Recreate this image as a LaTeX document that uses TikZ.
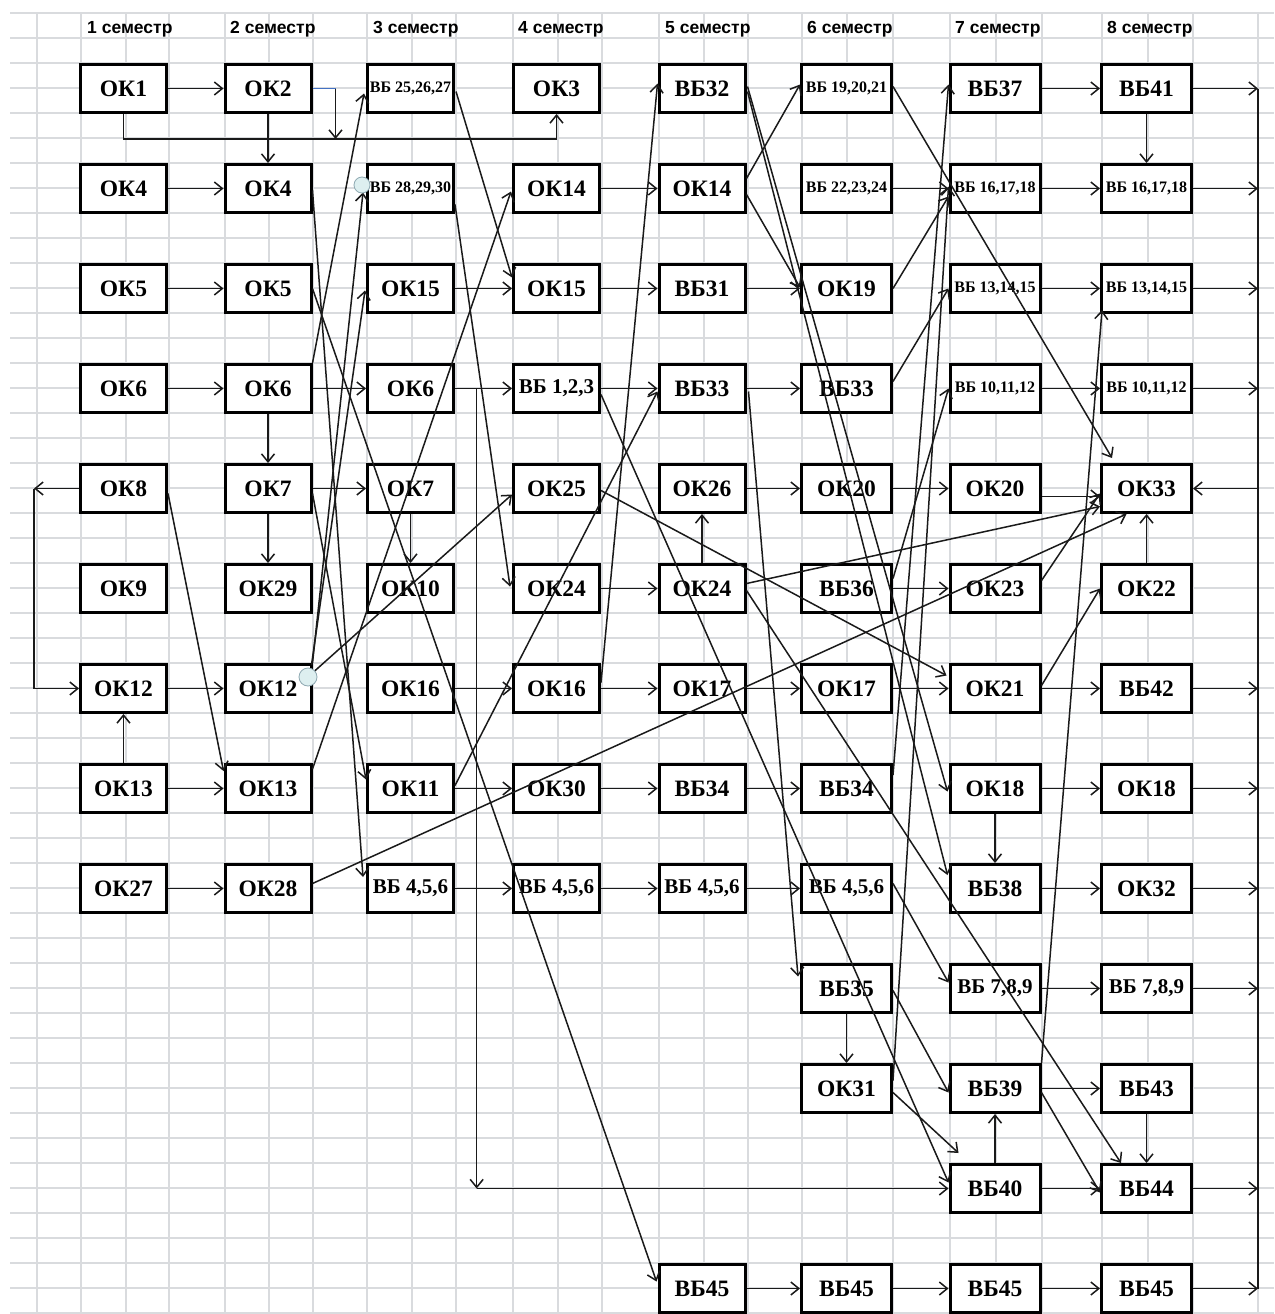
\documentclass[tikz,border=0pt]{standalone}
\usepackage{fontspec}
\setmainfont{Liberation Serif}
\newfontfamily\hdrfont{Liberation Sans}
\usetikzlibrary{arrows.meta,calc}
\definecolor{linec}{HTML}{1A1A1A}
\definecolor{gridc}{HTML}{D9DBDE}
\definecolor{bluel}{HTML}{4472C4}
\definecolor{circf}{HTML}{DDEFF0}
\definecolor{circd}{HTML}{8FA9B2}
\tikzset{
 bx/.style={draw=black, line width=3pt, fill=white, minimum width=86pt, minimum height=48pt, inner sep=0pt, font=\bfseries\fontsize{23.5}{23.5}\selectfont},
 bxw/.style={bx, minimum width=90pt},
 sm/.style={font=\bfseries\fontsize{16}{16}\selectfont},
 md/.style={font=\bfseries\fontsize{21}{21}\selectfont},
 arr/.style={line width=1.5pt, draw=linec, -{Straight Barb[length=8pt,width=13pt]}},
 ln/.style={line width=1.5pt, draw=linec},
 blueln/.style={line width=1.5pt, draw=bluel},
 gridl/.style={line width=1.1pt, draw=gridc},
 hdr/.style={font=\hdrfont\bfseries\fontsize{17.5}{17.5}\selectfont, anchor=west, inner sep=0pt},
 circ/.style={fill=circf, draw=circd, line width=0.8pt}
}
\begin{document}
\begin{tikzpicture}[x=1pt,y=-1pt]
\useasboundingbox (0,0) rectangle (1274,1314);
\fill[white] (0,0) rectangle (1274,1314);
% grid
\foreach \x in {37,81,126,169,225,269,313,367,412,456,513,558,602,659,704,748,802,847,893,950,996,1042,1102,1148,1193,1258}
  \draw[gridl] (\x,13) -- (\x,1314);
\foreach \k in {0,...,52}
  \draw[gridl] (10,{13+25*\k}) -- (1274,{13+25*\k});
% headers
\node[hdr] (h1) at (87,29) {1 семестр};
\node[hdr] (h2) at (230,29) {2 семестр};
\node[hdr] (h3) at (373,29) {3 семестр};
\node[hdr] (h4) at (518,29) {4 семестр};
\node[hdr] (h5) at (665,29) {5 семестр};
\node[hdr] (h6) at (807,29) {6 семестр};
\node[hdr] (h7) at (955,29) {7 семестр};
\node[hdr] (h8) at (1107,29) {8 семестр};
% column 1
\node[bx] (n1-1) at (123.5,88.5) {ОК1};
\node[bx] (n1-2) at (123.5,188.5) {ОК4};
\node[bx] (n1-3) at (123.5,288.5) {ОК5};
\node[bx] (n1-4) at (123.5,388.5) {ОК6};
\node[bx] (n1-5) at (123.5,488.5) {ОК8};
\node[bx] (n1-6) at (123.5,588.5) {ОК9};
\node[bx] (n1-7) at (123.5,688.5) {ОК12};
\node[bx] (n1-8) at (123.5,788.5) {ОК13};
\node[bx] (n1-9) at (123.5,888.5) {ОК27};
% column 2
\node[bx] (n2-1) at (268,88.5) {ОК2};
\node[bx] (n2-2) at (268,188.5) {ОК4};
\node[bx] (n2-3) at (268,288.5) {ОК5};
\node[bx] (n2-4) at (268,388.5) {ОК6};
\node[bx] (n2-5) at (268,488.5) {ОК7};
\node[bx] (n2-6) at (268,588.5) {ОК29};
\node[bx] (n2-7) at (268,688.5) {ОК12};
\node[bx] (n2-8) at (268,788.5) {ОК13};
\node[bx] (n2-9) at (268,888.5) {ОК28};
% column 3
\node[bx,sm] (n3-1) at (410.5,88.5) {ВБ 25,26,27};
\node[bx,sm] (n3-2) at (410.5,188.5) {ВБ 28,29,30};
\node[bx] (n3-3) at (410.5,288.5) {ОК15};
\node[bx] (n3-4) at (410.5,388.5) {ОК6};
\node[bx] (n3-5) at (410.5,488.5) {ОК7};
\node[bx] (n3-6) at (410.5,588.5) {ОК10};
\node[bx] (n3-7) at (410.5,688.5) {ОК16};
\node[bx] (n3-8) at (410.5,788.5) {ОК11};
\node[bx,md] (n3-9) at (410.5,888.5) {ВБ 4,5,6};
% column 4
\node[bx] (n4-1) at (556.5,88.5) {ОК3};
\node[bx] (n4-2) at (556.5,188.5) {ОК14};
\node[bx] (n4-3) at (556.5,288.5) {ОК15};
\node[bx,md] (n4-4) at (556.5,388.5) {ВБ 1,2,3};
\node[bx] (n4-5) at (556.5,488.5) {ОК25};
\node[bx] (n4-6) at (556.5,588.5) {ОК24};
\node[bx] (n4-7) at (556.5,688.5) {ОК16};
\node[bx] (n4-8) at (556.5,788.5) {ОК30};
\node[bx,md] (n4-9) at (556.5,888.5) {ВБ 4,5,6};
% column 5
\node[bx] (n5-1) at (702,88.5) {ВБ32};
\node[bx] (n5-2) at (702,188.5) {ОК14};
\node[bx] (n5-3) at (702,288.5) {ВБ31};
\node[bx] (n5-4) at (702,388.5) {ВБ33};
\node[bx] (n5-5) at (702,488.5) {ОК26};
\node[bx] (n5-6) at (702,588.5) {ОК24};
\node[bx] (n5-7) at (702,688.5) {ОК17};
\node[bx] (n5-8) at (702,788.5) {ВБ34};
\node[bx,md] (n5-9) at (702,888.5) {ВБ 4,5,6};
\node[bx] (n5-13) at (702,1288.5) {ВБ45};
% column 6
\node[bxw,sm] (n6-1) at (846.5,88.5) {ВБ 19,20,21};
\node[bxw,sm] (n6-2) at (846.5,188.5) {ВБ 22,23,24};
\node[bxw] (n6-3) at (846.5,288.5) {ОК19};
\node[bxw] (n6-4) at (846.5,388.5) {ВБ33};
\node[bxw] (n6-5) at (846.5,488.5) {ОК20};
\node[bxw] (n6-6) at (846.5,588.5) {ВБ36};
\node[bxw] (n6-7) at (846.5,688.5) {ОК17};
\node[bxw] (n6-8) at (846.5,788.5) {ВБ34};
\node[bxw,md] (n6-9) at (846.5,888.5) {ВБ 4,5,6};
\node[bxw] (n6-10) at (846.5,988.5) {ВБ35};
\node[bxw] (n6-11) at (846.5,1088.5) {ОК31};
\node[bxw] (n6-13) at (846.5,1288.5) {ВБ45};
% column 7
\node[bxw] (n7-1) at (995,88.5) {ВБ37};
\node[bxw,sm] (n7-2) at (995,188.5) {ВБ 16,17,18};
\node[bxw,sm] (n7-3) at (995,288.5) {ВБ 13,14,15};
\node[bxw,sm] (n7-4) at (995,388.5) {ВБ 10,11,12};
\node[bxw] (n7-5) at (995,488.5) {ОК20};
\node[bxw] (n7-6) at (995,588.5) {ОК23};
\node[bxw] (n7-7) at (995,688.5) {ОК21};
\node[bxw] (n7-8) at (995,788.5) {ОК18};
\node[bxw] (n7-9) at (995,888.5) {ВБ38};
\node[bxw,md] (n7-10) at (995,988.5) {ВБ 7,8,9};
\node[bxw] (n7-11) at (995,1088.5) {ВБ39};
\node[bxw] (n7-12) at (995,1188.5) {ВБ40};
\node[bxw] (n7-13) at (995,1288.5) {ВБ45};
% column 8
\node[bxw] (n8-1) at (1146.5,88.5) {ВБ41};
\node[bxw,sm] (n8-2) at (1146.5,188.5) {ВБ 16,17,18};
\node[bxw,sm] (n8-3) at (1146.5,288.5) {ВБ 13,14,15};
\node[bxw,sm] (n8-4) at (1146.5,388.5) {ВБ 10,11,12};
\node[bxw] (n8-5) at (1146.5,488.5) {ОК33};
\node[bxw] (n8-6) at (1146.5,588.5) {ОК22};
\node[bxw] (n8-7) at (1146.5,688.5) {ВБ42};
\node[bxw] (n8-8) at (1146.5,788.5) {ОК18};
\node[bxw] (n8-9) at (1146.5,888.5) {ОК32};
\node[bxw,md] (n8-10) at (1146.5,988.5) {ВБ 7,8,9};
\node[bxw] (n8-11) at (1146.5,1088.5) {ВБ43};
\node[bxw] (n8-12) at (1146.5,1188.5) {ВБ44};
\node[bxw] (n8-13) at (1146.5,1288.5) {ВБ45};
% helper coordinates
\coordinate (k0) at ($(n4-1.south)+(0,25)$);
\coordinate (k1) at ($(n2-1.east)+(23,0)$);
\coordinate (k2) at ($(n1-5.west)+(-45,0)$);
\path (n3-4.east) -- (n4-4.west) coordinate[pos=0.38] (k3);
\coordinate (k4) at (k3 |- n7-12.west);
\coordinate (bt) at (1258,88.5);
\coordinate (bb) at (1258,1289);
% horizontal connectors
\foreach \a/\b in {n1-1/n2-1,n1-2/n2-2,n1-3/n2-3,n1-4/n2-4,n1-7/n2-7,n1-8/n2-8,n1-9/n2-9,
  n2-4/n3-4,n2-5/n3-5,n3-3/n4-3,n3-4/n4-4,n3-7/n4-7,n3-8/n4-8,n3-9/n4-9,
  n4-2/n5-2,n4-3/n5-3,n4-4/n5-4,n4-6/n5-6,n4-7/n5-7,n4-8/n5-8,n4-9/n5-9,
  n5-3/n6-3,n5-4/n6-4,n5-5/n6-5,n5-7/n6-7,n5-8/n6-8,n5-9/n6-9,n5-13/n6-13,
  n6-2/n7-2,n6-5/n7-5,n6-6/n7-6,n6-7/n7-7,n6-13/n7-13,
  n7-1/n8-1,n7-2/n8-2,n7-3/n8-3,n7-4/n8-4,n7-7/n8-7,n7-8/n8-8,n7-9/n8-9,n7-10/n8-10,n7-11/n8-11,n7-12/n8-12,n7-13/n8-13}
  \draw[arr] (\a.east) -- (\b.west);
% vertical connectors
\foreach \a/\b in {n2-1/n2-2,n2-4/n2-5,n2-5/n2-6,n3-5/n3-6,n6-10/n6-11,n7-8/n7-9,n8-1/n8-2,n8-11/n8-12}
  \draw[arr] (\a.south) -- (\b.north);
\foreach \a/\b in {n1-8/n1-7,n5-6/n5-5,n7-12/n7-11,n8-6/n8-5}
  \draw[arr] (\a.north) -- (\b.south);
% routed connectors
\draw[arr] (n1-1.south) |- (k0) -- (n4-1.south);
\draw[blueln] (n2-1.east) -- (k1);
\draw[arr] (k1) -- (k1 |- k0);
\draw[arr] (n1-5.west) -- (k2);
\draw[arr] (k2) |- (n1-7.west);
\draw[arr] (k3) -- (k4);
\draw[arr] (k4) -- (n7-12.west);
% diagonal connectors
\draw[arr] ($(n1-5.east)+(0,5)$) -- ($(n2-8.north west)+(0,8)$);
\draw[arr] ($(n2-2.east)+(0,2)$) -- ($(n3-9.north west)+(-3,14)$);
\draw[arr] (n2-3.east) -- ($(n5-13.west)+(-1,-7)$);
\draw[arr] (n2-4.north east) -- ($(n3-1.west)+(-2,5)$);
\draw[arr] ($(n2-5.east)+(0,5)$) -- ($(n3-8.west)+(0,-9)$);
\draw[arr] (n2-7.north east) -- ($(n3-2.west)+(-3,4)$);
\draw[arr] ($(n2-7.north east)+(-1,2)$) -- ($(n3-3.west)+(-1,2)$);
\draw[arr] ($(n2-7.east)+(-4,-12)$) -- ($(n4-5.west)+(0,6)$);
\draw[arr] ($(n2-8.north east)+(0,6)$) -- ($(n4-2.west)+(-1,3)$);
\draw[arr] ($(n2-9.east)+(0,-5)$) -- ($(n8-5.south)+(-20,0)$);
\draw[arr] ($(n3-1.east)+(1,3)$) -- ($(n4-3.west)+(0,-11)$);
\draw[arr] ($(n3-2.east)+(0,16)$) -- ($(n4-6.west)+(-2,-2)$);
\draw[arr] ($(n3-8.east)+(0,-3)$) -- ($(n5-4.west)+(0,3)$);
\draw[arr] ($(n4-4.east)+(0,6)$) -- ($(n7-12.west)+(0,-6)$);
\draw[arr] ($(n4-5.east)+(0,2)$) -- ($(n7-7.west)+(-2,-13)$);
\draw[arr] ($(n4-7.east)+(0,-6)$) -- ($(n5-1.west)+(0,-5)$);
\draw[arr] ($(n5-1.east)+(1,-2)$) -- ($(n7-8.west)+(-1,3)$);
\draw[arr] ($(n5-1.east)+(1,3)$) -- ($(n7-9.north west)+(-1,12)$);
\draw[arr] ($(n5-2.east)+(0,-10)$) -- ($(n6-1.west)+(0,-4)$);
\draw[arr] ($(n5-2.east)+(0,6)$) -- ($(n6-3.west)+(0,-1)$);
\draw[arr] ($(n5-4.east)+(2,3)$) -- ($(n6-10.west)+(-2,-12)$);
\draw[arr] ($(n5-6.east)+(0,-5)$) -- ($(n8-5.west)+(0,18)$);
\draw[arr] ($(n5-6.east)+(0,2)$) -- ($(n8-12.north west)+(21,0)$);
\draw[arr] ($(n6-1.east)+(0,-2)$) -- ($(n8-5.north west)+(12,-5)$);
\draw[arr] (n6-3.east) -- ($(n7-2.west)+(0,8)$);
\draw[arr] ($(n6-4.east)+(0,-7)$) -- (n7-3.west);
\draw[arr] ($(n6-6.east)+(0,-10)$) -- (n7-4.west);
\draw[arr] ($(n6-8.north east)+(0,12)$) -- ($(n7-1.west)+(0,-4)$);
\draw[arr] ($(n6-9.east)+(0,-5)$) -- ($(n7-10.west)+(0,-6)$);
\draw[arr] ($(n6-10.east)+(0,2)$) -- ($(n7-11.west)+(0,4)$);
\draw[arr] ($(n6-11.east)+(0,4)$) -- ($(n7-12.north west)+(10,-10)$);
\draw[arr] ($(n6-11.east)+(0,-8)$) -- ($(n7-2.west)+(0,-2)$);
\draw[arr] ($(n7-5.east)+(0,8)$) -- ($(n8-5.west)+(0,8)$);
\draw[arr] ($(n7-6.east)+(0,-8)$) -- ($(n8-5.west)+(0,5)$);
\draw[arr] ($(n7-7.east)+(0,-3)$) -- (n8-6.west);
\draw[arr] ($(n7-11.east)+(0,4)$) -- ($(n8-12.west)+(0,4)$);
\draw[arr] (n7-11.north east) -- ($(n8-3.south west)+(2,-4)$);
% right bus
\draw[ln] (bt) -- (bb);
\foreach \r in {1,2,3,4,7,8,9,10,12,13}
  \draw[arr] (n8-\r.east) -- (n8-\r.east -| bt);
\draw[arr] (bt |- n8-5.east) -- (n8-5.east);
% selection handles
\draw[circ] (362,185) circle (8pt);
\draw[circ] (308,677) circle (9pt);
\end{tikzpicture}
\end{document}
